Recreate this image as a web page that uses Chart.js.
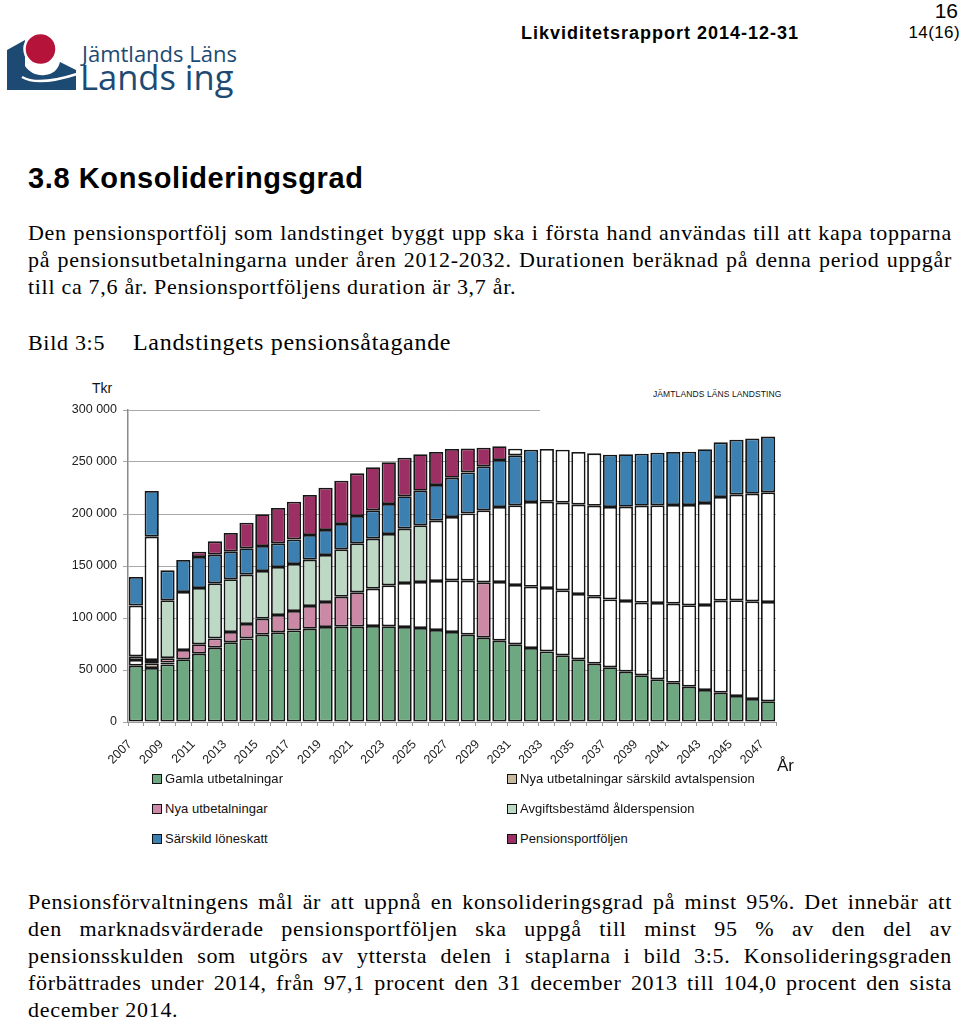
<!DOCTYPE html>
<html><head><meta charset="utf-8">
<script src="https://cdn.jsdelivr.net/npm/chart.js@4.4.1/dist/chart.umd.min.js"></script>
<style>
html,body{margin:0;padding:0;background:#fff;}
#page{position:relative;width:960px;height:1019px;overflow:hidden;font-family:"Liberation Sans",Arial,sans-serif;color:#000;}
.abs{position:absolute;white-space:nowrap;}
.serif{font-family:"Liberation Serif","Times New Roman",serif;font-size:22px;line-height:27px;left:28px;letter-spacing:0.7px;}
.just{width:924px;text-align:justify;text-align-last:justify;}
.lg{position:absolute;font-family:"Liberation Sans",Arial,sans-serif;font-size:13px;line-height:16px;color:#111;white-space:nowrap;letter-spacing:0.05px;}
.lg i{position:absolute;left:-13px;top:3px;width:10px;height:10px;box-sizing:border-box;border:1px solid #111;}
#chartBox{position:absolute;left:0;top:380px;width:960px;height:400px;}
</style>
</head><body>
<div id="page">
  <svg class="abs" style="left:0;top:0" width="90" height="100" viewBox="0 0 90 100">
    <path d="M7,50 L25,40 L25,66 C30,73 37,76 45,75 C53,74 58,70 60,62 L76,70 L76,90 L7,90 Z" fill="#1d4a73"/>
    <path d="M22,77 C34,84 52,82 77,74" stroke="#fff" stroke-width="2.5" fill="none"/>
    <circle cx="40.5" cy="49" r="16" fill="#b5133a" stroke="#fff" stroke-width="2.5"/>
  </svg>
  <div class="abs" style="left:82px;top:39px;font-family:'Open Sans','Noto Sans',sans-serif;font-size:22px;line-height:28px;color:#1d4a73;">Jämtlands Läns</div>
  <div class="abs" style="left:80px;top:56px;font-family:'Open Sans','Noto Sans',sans-serif;font-size:34.5px;line-height:42px;color:#1d4a73;">Lands ing</div>

  <div class="abs" style="left:521px;top:22px;font-size:18px;line-height:22px;font-weight:bold;letter-spacing:1px;">Likviditetsrapport 2014-12-31</div>
  <div class="abs" style="right:2px;top:0px;font-size:21px;line-height:21px;">16</div>
  <div class="abs" style="right:0px;top:23px;font-size:17px;line-height:20px;letter-spacing:0.4px;">14(16)</div>

  <div class="abs" style="left:28px;top:161px;font-size:29px;line-height:34px;font-weight:bold;letter-spacing:0.6px;">3.8 Konsolideringsgrad</div>

  <div class="abs serif just" style="top:219px;">Den pensionsportfölj som landstinget byggt upp ska i första hand användas till att kapa topparna</div>
  <div class="abs serif just" style="top:246px;">på pensionsutbetalningarna under åren 2012-2032. Durationen beräknad på denna period uppgår</div>
  <div class="abs serif" style="top:273px;">till ca 7,6 år. Pensionsportföljens duration är 3,7 år.</div>

  <div class="abs serif" style="top:329px;">Bild 3:5</div>
  <div class="abs serif" style="top:329px;left:133px;font-size:24px;">Landstingets pensionsåtagande</div>

  <div class="abs" style="left:92px;top:380px;font-size:14px;line-height:16px;color:#111;">Tkr</div>
  <div class="abs" style="left:653px;top:389px;font-size:8.5px;line-height:11px;color:#111;letter-spacing:0.1px;">JÄMTLANDS LÄNS LANDSTING</div>

  <div id="chartBox"><canvas id="c"></canvas></div>

  <div class="abs" style="left:777px;top:756px;font-size:17px;line-height:20px;color:#111;">År</div>
  <div id="legend"></div>

  <div class="abs serif just" style="top:888px;">Pensionsförvaltningens mål är att uppnå en konsolideringsgrad på minst 95%. Det innebär att</div>
  <div class="abs serif just" style="top:915px;">den marknadsvärderade pensionsportföljen ska uppgå till minst 95 % av den del av</div>
  <div class="abs serif just" style="top:942px;">pensionsskulden som utgörs av yttersta delen i staplarna i bild 3:5. Konsolideringsgraden</div>
  <div class="abs serif just" style="top:969px;">förbättrades under 2014, från 97,1 procent den 31 december 2013 till 104,0 procent den sista</div>
  <div class="abs serif" style="top:996px;">december 2014.</div>
</div>
<script>
// ---- data (tkr) ----
const years = ['2007','2008','2009','2010','2011','2012','2013','2014','2015','2016',
  '2017','2018','2019','2020','2021','2022','2023','2024','2025','2026',
  '2027','2028','2029','2030','2031','2032','2033','2034','2035','2036',
  '2037','2038','2039','2040','2041','2042','2043','2044','2045','2046','2047'];
const gamla = [54200,51900,55400,60300,65700,71500,76600,80400,84000,86200,
  88100,89700,91300,91700,91700,92300,92000,91300,90400,88500,
  86500,84000,81100,78200,74700,71200,67900,64100,60300,56100,
  52600,48400,44900,41000,37800,34000,30800,28200,25000,22100,19900];
const sarskildAvtal = [5400,4500,1800,null,null,null,null,null,null,null,
  null,null,null,null,null,null,null,null,null,null,
  null,null,null,null,null,null,null,null,null,null,
  null,null,null,null,null,null,null,null,null,null,null];
const nya = [3600,3200,4200,8900,9000,8900,9900,13800,15400,16700,
  18600,21800,24100,28800,33000,35900,39400,42300,44200,47100,
  49700,51900,53200,56400,57000,58900,60900,62500,62800,64400,
  65300,67900,69800,73400,76000,78200,81700,88500,92000,93900,95500];
const avgift = [48700,118600,55600,55800,54100,52900,50700,47500,45800,46100,
  45200,44600,45200,45500,47100,48100,49400,52300,54500,58000,
  60900,64700,69200,72100,76600,81400,83000,84300,85900,87500,
  88800,90700,93300,93900,94800,96400,98100,99600,101600,103500,105400];
const loneskatt = [27500,43900,28800,30800,29800,27600,26600,25300,24000,22800,
  23700,23700,24000,24400,26300,27200,28800,31100,33300,34300,
  37800,39400,42300,45200,48100,50300,50700,50900,50600,50300,
  50300,50400,50000,50700,51000,51300,51600,52600,52900,53200,53600];
const portfolj = [null,null,null,null,5200,12800,17900,24700,30500,34000,
  36200,38500,40700,41600,41000,41400,40100,37200,35000,31700,
  27600,23100,18000,13200,6400,null,null,null,null,null,
  null,null,null,null,null,null,null,null,null,null,null];
const yTicks = [0,50000,100000,150000,200000,250000,300000];
const seriesNames = ['Gamla utbetalningar','Nya utbetalningar särskild avtalspension','Nya utbetalningar',
  'Avgiftsbestämd ålderspension','Särskild löneskatt','Pensionsportföljen'];
// year ranges where the segment is drawn without fill in the reference
const unfilledRanges = [
  [],
  [[2007,2007]],
  [[2007,2007],[2022,2028],[2030,2047]],
  [[2007,2008],[2010,2010],[2026,2047]],
  [[2033,2036]],
  [[2031,2031]]
];

// ---- styles ----
const colors = ['#6ea881','#c9b8a2','#cc89a6','#bdd8c5','#3c7fb1','#9c2f63'];
const legendPos = [[165,771],[520,771],[165,801],[520,801],[165,831],[520,831]];

const seriesData = [gamla, sarskildAvtal, nya, avgift, loneskatt, portfolj];
function isUnfilled(s, i){
  const y = +years[i];
  return unfilledRanges[s].some(r => y >= r[0] && y <= r[1]);
}
const datasets = seriesData.map((d, s) => ({
  label: seriesNames[s],
  data: d,
  backgroundColor: (ctx) => isUnfilled(s, ctx.dataIndex) ? '#ffffff' : colors[s],
  borderColor: '#161616',
  borderWidth: 1.8,
  borderSkipped: false,
  barPercentage: 0.9,
  categoryPercentage: 1.0
}));

function fmt(v){ return String(v).replace(/\B(?=(\d{3})+(?!\d))/g,' '); }

const coverPlugin = {
  id:'cover',
  beforeDatasetsDraw(chart){
    const {ctx, chartArea:a} = chart;
    const xs = chart.scales.x;
    const x0 = (xs.getPixelForValue(25) + xs.getPixelForValue(26)) / 2 + 1;
    ctx.save();
    ctx.fillStyle = '#ffffff';
    ctx.fillRect(x0, a.top - 3, a.right - x0 + 4, 5);
    ctx.restore();
  }
};

const chart = new Chart(document.getElementById('c'), {
  type: 'bar',
  data: { labels: years, datasets },
  options: {
    responsive: true, maintainAspectRatio: false, animation: false,
    layout: { padding: { left: 0, right: 184, top: 30, bottom: 0 } },
    plugins: { legend: { display: false }, tooltip: { enabled: false } },
    scales: {
      x: {
        stacked: true,
        grid: { display: true, drawOnChartArea: false, offset: true, tickLength: 4, color: '#999', lineWidth: 1 },
        border: { color: '#999', width: 1 },
        ticks: { autoSkip: false, minRotation: 45, maxRotation: 45, padding: 11, labelOffset: -6, color: '#222',
          font: { family: 'Liberation Sans', size: 12.5 },
          callback: (v, i) => (i % 2 === 0 ? years[i] : '') },
        afterFit: (s) => { s.height = 58; }
      },
      y: {
        stacked: true, min: 0, max: 300000,
        afterBuildTicks: (s) => { s.ticks = yTicks.map(v => ({ value: v })); },
        grid: { color: '#a8a8a8', tickLength: 5, lineWidth: 1 },
        border: { color: '#8a8a8a', width: 1.5 },
        ticks: { padding: 6, color: '#222', font: { family: 'Liberation Sans', size: 12.5 }, callback: (v) => fmt(v) },
        afterFit: (s) => { s.width = 128; }
      }
    }
  },
  plugins: [coverPlugin]
});

// HTML legend built from the chart datasets
const lg = document.getElementById('legend');
chart.data.datasets.forEach((ds, s) => {
  const el = document.createElement('div');
  el.className = 'lg';
  el.style.left = legendPos[s][0] + 'px';
  el.style.top = legendPos[s][1] + 'px';
  el.innerHTML = '<i style="background:' + colors[s] + '"></i>' + ds.label;
  lg.appendChild(el);
});
</script>
</body></html>
